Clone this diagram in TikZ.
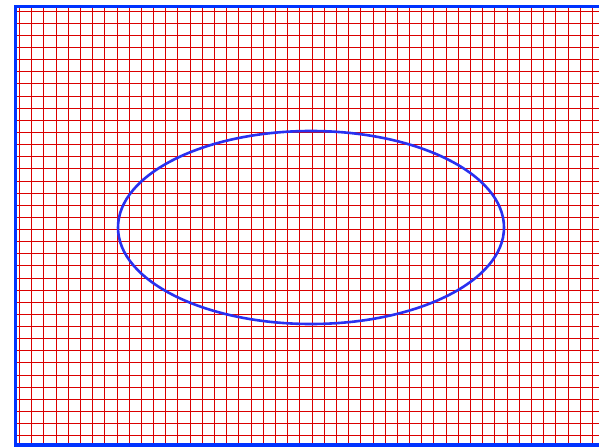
\documentclass[tikz,border=0pt]{standalone}
\usepackage{xcolor}
\usepackage{tikz}

\definecolor{meshred}{RGB}{218,0,0}
\definecolor{frameblue}{RGB}{0,51,255}
\definecolor{contourblue}{RGB}{40,48,240}

\begin{document}
\begin{tikzpicture}[
    x=1bp, y=-1bp,
    meshline/.style={draw=meshred, line width=1.8bp},
    frameline/.style={draw=frameblue, line width=3.6bp, line join=miter},
    contour/.style={draw=contourblue, line width=2.6bp}
]
\useasboundingbox (0,0) rectangle (599,447);

% 1. Mesh (vertical and horizontal grid lines, snapped to pixels)
\foreach \i in {0,...,47}
    \draw[meshline] ({round(19+12.19*\i)+0.5},6.5) -- ({round(19+12.19*\i)+0.5},445.2);
\foreach \j in {0,...,35}
    \draw[meshline] (15.3,{round(10.7+12.13*\j)+0.5}) -- (599,{round(10.7+12.13*\j)+0.5});

% 2. Outer frame (open on the right side)
\coordinate (tr) at (599,6.5);
\coordinate (tl) at (15.3,6.5);
\coordinate (bl) at (15.3,445.2);
\coordinate (br) at (599,445.2);
\draw[frameline] (tr) -- (tl) -- (bl) -- (br);

% 3. Elliptic contour
\coordinate (centre) at (311,227.5);
\draw[contour] (centre) ellipse [x radius=193, y radius=96.5];

\end{tikzpicture}
\end{document}
